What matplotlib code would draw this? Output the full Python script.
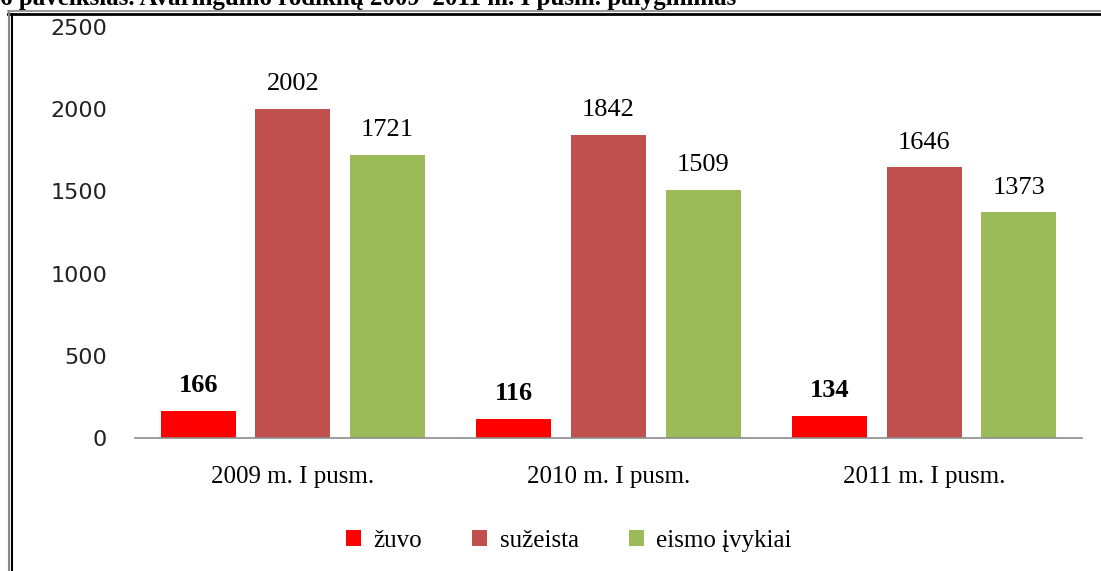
import matplotlib.pyplot as plt
import numpy as np
from matplotlib.lines import Line2D

periods = ["2009 m. I pusm.", "2010 m. I pusm.", "2011 m. I pusm."]
series_names = ["žuvo", "sužeista", "eismo įvykiai"]
zuvo = [166, 116, 134]
suzeista = [2002, 1842, 1646]
ivykiai = [1721, 1509, 1373]
colors = ["#FF0000", "#C0504D", "#9BBB59"]

fig = plt.figure(figsize=(11.01, 5.71), dpi=100)
ax = fig.add_axes([135 / 1101, 1 - 438 / 571, 947 / 1101, 411 / 571])

x = np.arange(len(periods))
width = 0.237
step = 0.30
serif = "Liberation Serif"

for i, (vals, name, col) in enumerate(zip([zuvo, suzeista, ivykiai], series_names, colors)):
    bars = ax.bar(x + (i - 1) * step, vals, width, color=col, label=name)
    for b, v in zip(bars, vals):
        ax.annotate(str(v), (b.get_x() + b.get_width() / 2, v),
                    xytext=(0, 13.5), textcoords="offset points",
                    ha="center", va="baseline", family=serif, fontsize=19,
                    fontweight="bold" if i == 0 else "normal")

ax.set_xlim(-0.5, 2.5)
ax.set_ylim(0, 2500)
ax.set_yticks(range(0, 2501, 500))
ax.set_xticks(x)
ax.set_xticklabels(periods, family=serif, fontsize=18)
for lbl in ax.get_yticklabels():
    lbl.set_family("DejaVu Sans")
    lbl.set_fontsize(16)
    lbl.set_color("#222222")
ax.tick_params(axis="y", length=0, pad=20)
ax.tick_params(axis="x", length=0, pad=20)
for s in ["top", "right", "left"]:
    ax.spines[s].set_visible(False)
ax.spines["bottom"].set_color("#8c8c8c")
ax.spines["bottom"].set_linewidth(1.2)

fig.legend(loc="center", bbox_to_anchor=(569 / 1101, 1 - 541 / 571), ncol=3,
           frameon=False, prop={"family": serif, "size": 18},
           handlelength=0.6, handleheight=0.6, handletextpad=0.5, columnspacing=2.0)

# page frame and clipped caption
fig.add_artist(Line2D([8 / 1101, 1], [1 - 11 / 571, 1 - 11 / 571], color="#888888", lw=1.2))
fig.add_artist(Line2D([8 / 1101, 1], [1 - 13.5 / 571, 1 - 13.5 / 571], color="black", lw=2))
fig.add_artist(Line2D([8.5 / 1101, 8.5 / 1101], [0, 1 - 11 / 571], color="#888888", lw=1.5))
fig.add_artist(Line2D([12 / 1101, 12 / 1101], [0, 1 - 13.5 / 571], color="black", lw=1.5))
fig.text(0, 1 - 5 / 571, "6 paveikslas. Avaringumo rodiklių 2009–2011 m. I pusm. palyginimas",
         family=serif, fontweight="bold", fontsize=18, va="baseline", ha="left")

fig.savefig("out.png", dpi=100)
